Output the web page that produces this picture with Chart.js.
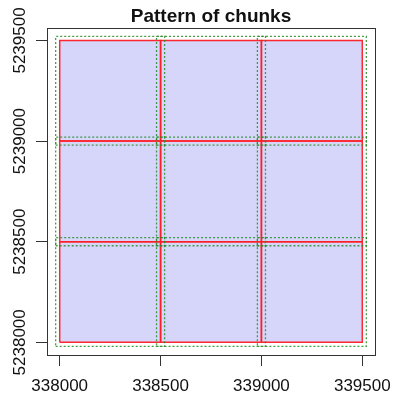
<!DOCTYPE html>
<html>
<head>
<meta charset="utf-8">
<script src="https://cdn.jsdelivr.net/npm/chart.js@4/dist/chart.umd.min.js"></script>
<style>
  html, body { margin: 0; padding: 0; background: #fff; }
  #wrap { width: 393px; height: 394px; }
</style>
</head>
<body>
<div id="wrap"><canvas id="chunks"></canvas></div>
<script>
// chunk boundaries (x and y break points) and the buffer around each chunk
const xBreaks = [338000, 338500, 339000, 339500];
const yBreaks = [5238000, 5238500, 5239000, 5239500];
const bufferSize = 20;

const xTicks = [338000, 338500, 339000, 339500];
const yTicks = [5238000, 5238500, 5239000, 5239500];

function rect(x0, x1, y0, y1) {
    return [
        { x: x0, y: y0 }, { x: x1, y: y0 }, { x: x1, y: y1 },
        { x: x0, y: y1 }, { x: x0, y: y0 }
    ];
}

const datasets = [];

// whole extent, filled (drawn first: highest order)
datasets.push({
    data: rect(xBreaks[0], xBreaks[xBreaks.length - 1], yBreaks[0], yBreaks[yBreaks.length - 1]),
    showLine: true,
    fill: 'shape',
    backgroundColor: 'rgb(214, 214, 250)',
    borderWidth: 0,
    pointRadius: 0,
    order: 3
});

// red chunk outlines
for (let i = 0; i < xBreaks.length - 1; i++) {
    for (let j = 0; j < yBreaks.length - 1; j++) {
        datasets.push({
            data: rect(xBreaks[i], xBreaks[i + 1], yBreaks[j], yBreaks[j + 1]),
            showLine: true,
            fill: false,
            borderColor: 'rgba(255, 30, 40, 0.95)',
            borderWidth: 1.5,
            pointRadius: 0,
            order: 2
        });
    }
}

// buffered chunks, dotted green
for (let i = 0; i < xBreaks.length - 1; i++) {
    for (let j = 0; j < yBreaks.length - 1; j++) {
        datasets.push({
            data: rect(xBreaks[i] - bufferSize, xBreaks[i + 1] + bufferSize,
                       yBreaks[j] - bufferSize, yBreaks[j + 1] + bufferSize),
            showLine: true,
            fill: false,
            borderColor: 'rgba(40, 140, 40, 0.85)',
            borderWidth: 1.3,
            borderDash: [2, 2],
            pointRadius: 0,
            order: 1
        });
    }
}

// box around the plot + rotated y tick labels
const boxPlugin = {
    id: 'box',
    afterDraw(chart) {
        const ctx = chart.ctx;
        const a = chart.chartArea;
        ctx.save();
        ctx.strokeStyle = '#333';
        ctx.lineWidth = 1;
        ctx.strokeRect(Math.round(a.left) + 0.5, Math.round(a.top) + 0.5,
            Math.round(a.right - a.left), Math.round(a.bottom - a.top));

        const ys = chart.scales.y;
        ctx.fillStyle = '#111';
        ctx.font = '17px "Liberation Sans", Arial, sans-serif';
        ctx.textAlign = 'center';
        ctx.textBaseline = 'alphabetic';
        for (const v of yTicks) {
            const py = ys.getPixelForValue(v);
            ctx.save();
            ctx.translate(25, py);
            ctx.rotate(-Math.PI / 2);
            ctx.fillText(String(v), 0, 0);
            ctx.restore();
        }
        ctx.restore();
    }
};

new Chart(document.getElementById('chunks'), {
    type: 'scatter',
    data: { datasets: datasets },
    options: {
        responsive: true,
        maintainAspectRatio: false,
        animation: false,
        layout: { padding: { left: 0, right: 18, top: 0, bottom: 0 } },
        plugins: {
            legend: { display: false },
            tooltip: { enabled: false },
            title: {
                display: true,
                text: 'Pattern of chunks',
                fullSize: false,
                color: '#111',
                font: { family: '"Liberation Sans", Arial, sans-serif', size: 19, weight: 'bold' },
                padding: { top: 5, bottom: 0 }
            }
        },
        scales: {
            x: {
                type: 'linear',
                min: 337937,
                max: 339563,
                afterBuildTicks: s => { s.ticks = xTicks.map(v => ({ value: v })); },
                afterFit: s => { s.height = 39; s.paddingLeft = 0; s.paddingRight = 0; },
                grid: { drawOnChartArea: false, drawTicks: true, tickLength: 11, color: '#333', lineWidth: 1 },
                border: { display: false },
                ticks: {
                    color: '#111',
                    padding: 10,
                    maxRotation: 0,
                    font: { family: '"Liberation Sans", Arial, sans-serif', size: 17 },
                    callback: v => String(v)
                }
            },
            y: {
                type: 'linear',
                min: 5237937,
                max: 5239563,
                afterBuildTicks: s => { s.ticks = yTicks.map(v => ({ value: v })); },
                afterFit: s => { s.width = 47; s.paddingTop = 0; s.paddingBottom = 0; },
                grid: { drawOnChartArea: false, drawTicks: true, tickLength: 11, color: '#333', lineWidth: 1 },
                border: { display: false },
                ticks: { display: false }
            }
        }
    },
    plugins: [boxPlugin]
});
</script>
</body>
</html>
